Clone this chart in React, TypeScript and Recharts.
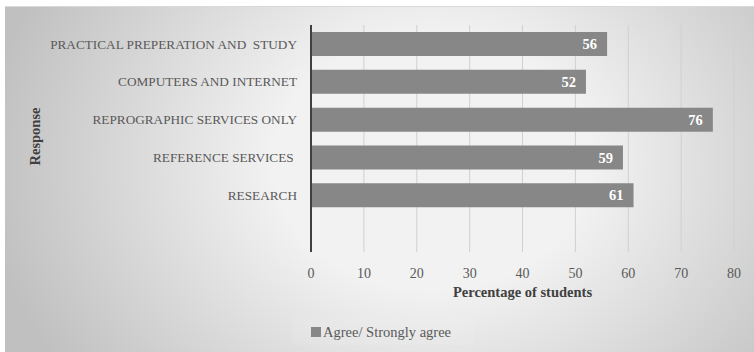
import { BarChart, Bar, XAxis, YAxis, CartesianGrid, LabelList } from 'recharts'

const categories = [
  'PRACTICAL PREPERATION AND\u00a0 STUDY',
  'COMPUTERS AND INTERNET',
  'REPROGRAPHIC SERVICES ONLY',
  'REFERENCE SERVICES\u00a0',
  'RESEARCH',
  '',
]
const agreeValues = [56, 52, 76, 59, 61, null]
const xTicks = [0, 10, 20, 30, 40, 50, 60, 70, 80]

const data = categories.map((name, i) => ({ name, agree: agreeValues[i] }))

const FONT = '"Liberation Serif", "Times New Roman", serif'
const BAR_COLOR = '#878787'

const LegendBox = () => (
  <div
    style={{
      position: 'absolute', left: 292, top: 319, width: 182, height: 26,
      background: 'rgba(255,255,255,0.08)', display: 'flex', alignItems: 'center',
      paddingLeft: 19, boxSizing: 'border-box', fontFamily: FONT, fontSize: 14.5, color: '#595959',
    }}
  >
    <span style={{ width: 10, height: 10, background: BAR_COLOR, display: 'inline-block', marginRight: 2 }} />
    Agree/ Strongly agree
  </div>
)

export default function App() {
  return (
    <div style={{ position: 'relative', width: 754, height: 352, background: '#fff' }}>
      <style>{'body{margin:0}'}</style>
      <div
        style={{
          position: 'absolute', left: 5, top: 6, width: 749, height: 346,
          borderTop: '1px solid #d9d9d9', boxSizing: 'border-box',
          background: 'radial-gradient(ellipse 60% 105% at 57% 45%, #f2f2f2 35%, #c0c0c0 100%)',
        }}
      />
      <div style={{ position: 'absolute', left: 0, top: 0 }}>
        <BarChart
          width={754}
          height={352}
          data={data}
          layout="vertical"
          margin={{ top: 25, right: 20, bottom: 50, left: 0 }}
        >
          <CartesianGrid horizontal={false} stroke="#d0d0d0" />
          <XAxis
            type="number"
            domain={[0, 80]}
            ticks={xTicks}
            axisLine={false}
            tickLine={false}
            height={50}
            tickMargin={10}
            tick={{ fontFamily: FONT, fontSize: 14, fill: '#595959' }}
            label={{
              value: 'Percentage of students', position: 'insideBottom', offset: 5,
              style: { fontFamily: FONT, fontSize: 14.5, fontWeight: 'bold', fill: '#404040' },
            }}
          />
          <YAxis
            type="category"
            dataKey="name"
            width={311}
            axisLine={{ stroke: '#404040', strokeWidth: 2 }}
            tickLine={false}
            tickMargin={8}
            interval={0}
            tick={{ fontFamily: FONT, fontSize: 13.25, fill: '#595959' }}
            label={({ viewBox }: any) => (
              <text
                x={viewBox.x + 40}
                y={viewBox.y + viewBox.height / 2 - 2}
                transform={`rotate(-90 ${viewBox.x + 40} ${viewBox.y + viewBox.height / 2 - 2})`}
                textAnchor="middle"
                fontFamily={FONT}
                fontSize={14.5}
                fontWeight="bold"
                fill="#404040"
              >
                Response
              </text>
            )}
          />
          <Bar dataKey="agree" fill={BAR_COLOR} barSize={24} isAnimationActive={false}>
            <LabelList
              dataKey="agree"
              position="insideRight"
              offset={10}
              fill="#ffffff"
              style={{ fontFamily: FONT, fontSize: 14.5, fontWeight: 'bold' }}
            />
          </Bar>
        </BarChart>
      </div>
      <LegendBox />
    </div>
  )
}
